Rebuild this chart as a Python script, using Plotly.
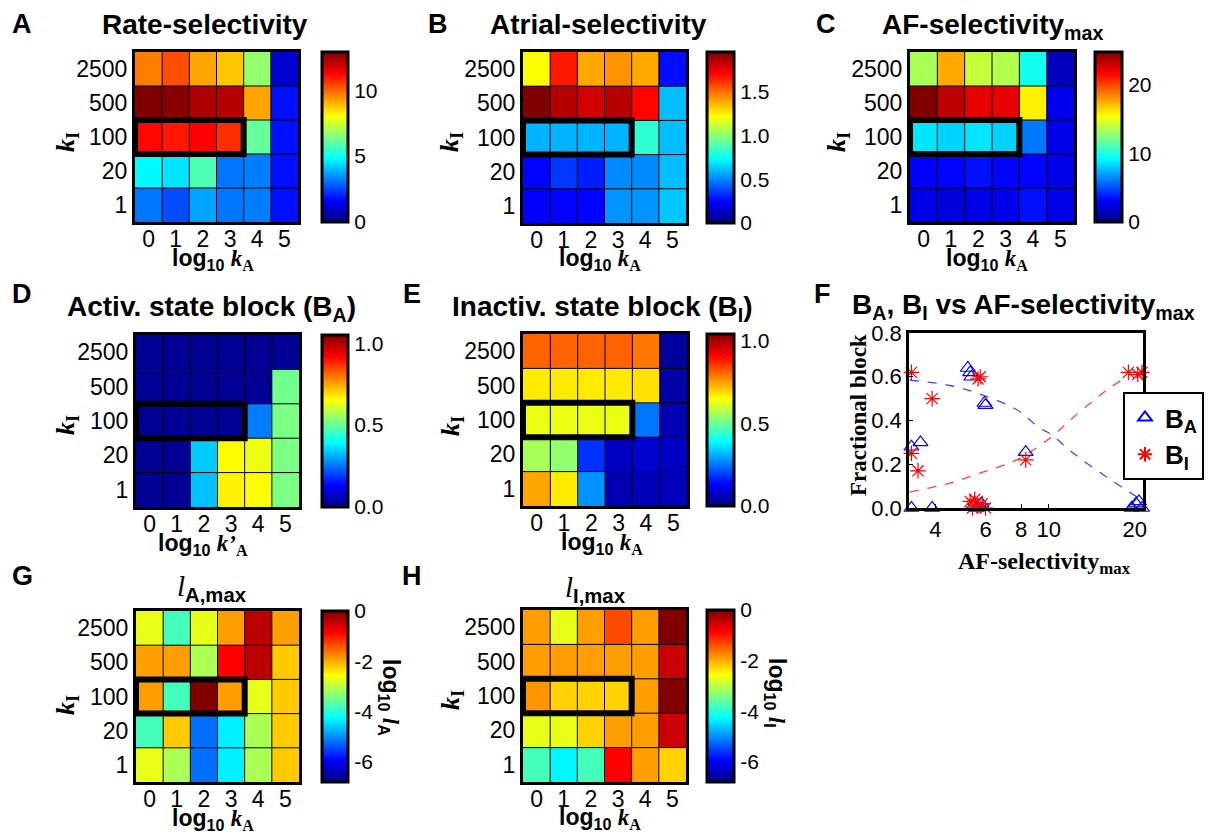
import plotly.graph_objects as go

W, H = 1217, 837
SANS = "Liberation Sans, Arial, sans-serif"
SERIF = "Liberation Serif, Times New Roman, serif"

# ---------------- parameter grid ----------------
kI_labels = ["2500", "500", "100", "20", "1"]      # heatmap rows, top to bottom
kI_order = kI_labels[::-1]                         # category order, bottom to top
log10_kA = [0, 1, 2, 3, 4, 5]                      # heatmap columns

rate_selectivity = [
    [9.7, 10.3, 9.2, 8.8, 6.7, 1.0],
    [12.9, 12.8, 12.3, 12.2, 9.2, 1.8],
    [11.2, 11.0, 11.3, 10.7, 6.1, 1.8],
    [4.8, 4.5, 5.8, 3.1, 3.2, 1.8],
    [3.1, 2.6, 3.7, 3.1, 3.2, 1.8],
]
atrial_selectivity = [
    [1.22, 1.67, 1.39, 1.43, 1.39, 0.27],
    [1.96, 1.86, 1.80, 1.85, 1.71, 0.61],
    [0.59, 0.59, 0.59, 0.59, 0.82, 0.61],
    [0.25, 0.35, 0.30, 0.51, 0.51, 0.61],
    [0.24, 0.25, 0.25, 0.53, 0.53, 0.63],
]
af_selectivity_max = [
    [13.4, 17.6, 14.1, 13.6, 9.7, 1.5],
    [24.8, 23.3, 22.3, 22.3, 15.9, 2.7],
    [8.7, 8.2, 8.7, 8.2, 6.0, 2.5],
    [3.0, 3.2, 3.5, 3.2, 3.2, 2.5],
    [2.5, 2.2, 2.5, 2.7, 3.5, 2.5],
]
activated_block = [
    [0.02, 0.02, 0.02, 0.02, 0.02, 0.02],
    [0.02, 0.02, 0.02, 0.02, 0.02, 0.51],
    [0.02, 0.02, 0.02, 0.02, 0.26, 0.52],
    [0.02, 0.02, 0.34, 0.66, 0.64, 0.52],
    [0.02, 0.02, 0.33, 0.67, 0.66, 0.52],
]
inactivated_block = [
    [0.81, 0.81, 0.81, 0.81, 0.79, 0.03],
    [0.67, 0.67, 0.67, 0.67, 0.68, 0.04],
    [0.63, 0.63, 0.63, 0.63, 0.25, 0.05],
    [0.56, 0.54, 0.18, 0.07, 0.08, 0.07],
    [0.74, 0.67, 0.28, 0.05, 0.06, 0.06],
]
log_lA_max = [
    [-2.7, -3.8, -2.7, -1.9, -0.4, -1.9],
    [-1.9, -1.9, -3.1, -0.85, -0.4, -2.2],
    [-1.9, -3.8, 0.0, -1.9, -2.7, -2.2],
    [-3.8, -2.2, -5.2, -4.35, -3.1, -2.2],
    [-2.7, -3.1, -5.2, -4.35, -3.1, -2.2],
]
log_lI_max = [
    [-1.9, -2.7, -1.9, -1.35, -1.9, 0.0],
    [-1.9, -1.9, -1.9, -1.9, -1.9, -0.5],
    [-1.85, -2.25, -2.25, -2.25, -1.9, -0.05],
    [-2.7, -2.7, -2.25, -1.9, -1.9, -0.5],
    [-3.8, -4.3, -3.8, -0.85, -1.9, -2.25],
]

# ---------------- fractional block vs AF-selectivity ----------------
ba_x = [3.3, 3.9, 3.3, 3.55, 5.2, 5.3, 5.35, 5.95, 6.0, 8.3, 5.45, 5.6, 5.8, 19.5, 20.2, 20.7, 21.2]
ba_y = [0.0, 0.0, 0.28, 0.30, 0.64, 0.62, 0.60, 0.48, 0.47, 0.255, 0.01, 0.0, 0.02, 0.0, 0.02, 0.03, 0.0]
bi_x = [3.3, 3.9, 3.3, 3.48, 5.65, 5.75, 8.3, 5.3, 5.4, 5.5, 5.65, 5.85, 6.0, 19.0, 20.5, 21.2]
bi_y = [0.62, 0.50, 0.25, 0.17, 0.59, 0.60, 0.22, 0.03, 0.0, 0.04, 0.01, 0.02, 0.0, 0.62, 0.61, 0.62]
fit_x_ba = [3.25, 4.5, 5.9, 7.7, 9.3, 10.1, 12.2, 16.0, 20.4]
fit_ba = [0.585, 0.56, 0.515, 0.45, 0.365, 0.34, 0.25, 0.14, 0.05]
fit_x_bi = [3.25, 4.5, 5.9, 7.7, 10.1, 12.2, 16.0, 19.3]
fit_bi = [0.073, 0.114, 0.165, 0.22, 0.32, 0.415, 0.54, 0.61]

JET = [[0.0, "rgb(0,0,128)"], [0.125, "rgb(0,0,255)"], [0.375, "rgb(0,255,255)"],
       [0.625, "rgb(255,255,0)"], [0.875, "rgb(255,0,0)"], [1.0, "rgb(128,0,0)"]]


def xd(x0, x1):
    return [x0 / W, x1 / W]


def yd(y0, y1):
    return [1 - y1 / H, 1 - y0 / H]


def ax_name(n, letter):
    return f"{letter}axis" if n == 1 else f"{letter}axis{n}"


def ax_ref(n, letter):
    return letter if n == 1 else f"{letter}{n}"


# panels: (axis number, data, zmin, zmax, colorbar ticks, tick text, heatmap box, colorbar box)
heat_panels = [
    (1, rate_selectivity, 0, 12.9, [0, 5, 10], ["0", "5", "10"], (135, 298, 52, 222), (322, 348, 52, 222)),
    (2, atrial_selectivity, 0, 1.96, [0, 0.5, 1.0, 1.5], ["0", "0.5", "1.0", "1.5"], (523, 686, 52, 223), (707, 734, 52, 223)),
    (3, af_selectivity_max, 0, 24.8, [0, 10, 20], ["0", "10", "20"], (910, 1074, 52, 222), (1095, 1122, 52, 222)),
    (4, activated_block, 0, 1.05, [0, 0.5, 1.0], ["0.0", "0.5", "1.0"], (136, 299, 335, 507), (322, 348, 335, 507)),
    (5, inactivated_block, 0, 1.04, [0, 0.5, 1.0], ["0.0", "0.5", "1.0"], (523, 687, 334, 506), (707, 734, 334, 506)),
    (7, log_lA_max, -6.8, 0, [-6, -4, -2, 0], ["-6", "-4", "-2", "0"], (136, 299, 611, 782), (322, 348, 611, 782)),
    (8, log_lI_max, -6.8, 0, [-6, -4, -2, 0], ["-6", "-4", "-2", "0"], (523, 686, 610, 782), (707, 734, 610, 782)),
]

fig = go.Figure()
layout = {}
shapes = []

for n, z, zmin, zmax, tv, tt, hb, cb in heat_panels:
    fig.add_trace(go.Heatmap(
        z=z, x=log10_kA, y=kI_labels, zmin=zmin, zmax=zmax, colorscale=JET,
        xaxis=ax_ref(n, "x"), yaxis=ax_ref(n, "y"), hoverinfo="skip",
        colorbar=dict(
            x=cb[0] / W, xanchor="left", xpad=0, y=1 - cb[2] / H, yanchor="top", ypad=0,
            len=cb[3] - cb[2], lenmode="pixels", thickness=cb[1] - cb[0], thicknessmode="pixels",
            outlinewidth=3, outlinecolor="black", tickvals=tv, ticktext=tt, ticks="",
            tickfont=dict(family=SANS, size=21, color="black"),
        ),
    ))
    layout[ax_name(n, "x")] = dict(
        domain=xd(hb[0], hb[1]), anchor=ax_ref(n, "y"), range=[-0.5, 5.5], automargin=False,
        tickvals=log10_kA, ticks="", ticklabelstandoff=-6, showgrid=False, zeroline=False,
        showline=True, mirror=True, linewidth=3, linecolor="black",
        tickfont=dict(family=SANS, size=23, color="black"),
    )
    layout[ax_name(n, "y")] = dict(
        domain=yd(hb[2], hb[3]), anchor=ax_ref(n, "x"), range=[-0.5, 4.5], automargin=False,
        type="category", categoryorder="array", categoryarray=kI_order,
        ticks="", showgrid=False, zeroline=False,
        showline=True, mirror=True, linewidth=3, linecolor="black",
        tickfont=dict(family=SANS, size=23, color="black"),
    )
    xr, yr = ax_ref(n, "x"), ax_ref(n, "y")
    # thin cell borders
    for i in range(1, len(log10_kA)):
        shapes.append(dict(type="line", xref=xr, yref=yr, x0=i - 0.5, x1=i - 0.5, y0=-0.5, y1=4.5,
                           line=dict(color="black", width=1), layer="above"))
    for j in range(1, len(kI_order)):
        shapes.append(dict(type="line", xref=xr, yref=yr, x0=-0.5, x1=5.5, y0=j - 0.5, y1=j - 0.5,
                           line=dict(color="black", width=1), layer="above"))
    # highlighted parameter set: k_I = 100, log10 k_A = 0..3
    r = kI_order.index("100")
    shapes.append(dict(type="rect", xref=xr, yref=yr, x0=-0.5, x1=3.5, y0=r - 0.5, y1=r + 0.5,
                       line=dict(color="black", width=6), fillcolor="rgba(0,0,0,0)", layer="above"))

# ---------------- panel F ----------------
fig.add_trace(go.Scatter(x=fit_x_ba, y=fit_ba, mode="lines", xaxis="x6", yaxis="y6", showlegend=False,
                         line=dict(color="rgb(70,70,255)", width=1.3, dash="dash", shape="spline"),
                         hoverinfo="skip"))
fig.add_trace(go.Scatter(x=fit_x_bi, y=fit_bi, mode="lines", xaxis="x6", yaxis="y6", showlegend=False,
                         line=dict(color="rgb(255,70,70)", width=1.3, dash="dash", shape="spline"),
                         hoverinfo="skip"))
fig.add_trace(go.Scatter(x=ba_x, y=ba_y, mode="markers", xaxis="x6", yaxis="y6", cliponaxis=False,
                         name="<b>B<sub>A</sub></b>",
                         marker=dict(symbol="triangle-up-open", size=13, color="rgb(0,0,255)",
                                     line=dict(width=1.2))))
fig.add_trace(go.Scatter(x=bi_x, y=bi_y, mode="markers", xaxis="x6", yaxis="y6", cliponaxis=False,
                         name="<b>B<sub>I</sub></b>",
                         marker=dict(symbol="asterisk-open", size=13, color="rgb(255,0,0)",
                                     line=dict(width=1.2, color="rgb(255,0,0)"))))

layout["xaxis6"] = dict(
    domain=xd(909, 1143), anchor="y6", type="log", range=[0.51, 1.33], automargin=False,
    tickvals=[4, 6, 8, 10, 20], ticktext=["4", "6", "8", "10", "20"],
    ticks="inside", ticklen=4, tickcolor="black", showgrid=False, zeroline=False,
    showline=True, mirror=True, linewidth=2.5, linecolor="black",
    tickfont=dict(family=SANS, size=22, color="black"),
)
layout["yaxis6"] = dict(
    domain=yd(333, 508), anchor="x6", range=[0, 0.8], automargin=False,
    tickvals=[0, 0.2, 0.4, 0.6, 0.8], ticktext=["0.0", "0.2", "0.4", "0.6", "0.8"],
    ticks="inside", ticklen=4, tickcolor="black", showgrid=False, zeroline=False,
    showline=True, mirror=True, linewidth=2.5, linecolor="black",
    tickfont=dict(family=SANS, size=22, color="black"),
)


def ann(text, x, y, size, family=SANS, angle=0):
    return dict(text=text, x=x / W, y=1 - y / H, xref="paper", yref="paper",
                xanchor="center", yanchor="middle", showarrow=False, textangle=angle,
                font=dict(family=family, size=size, color="black"))


SER = "<span style='font-family:Liberation Serif'>"
kA_title = "<b>log<sub>10</sub> " + SER + "<i>k</i><sub>A</sub></span></b>"
kA2_title = "<b>log<sub>10</sub> " + SER + "<i>k’</i><sub>A</sub></span></b>"
kI_title = "<b><i>k</i><sub>I</sub></b>"

annotations = [
    # panel letters
    ann("<b>A</b>", 22, 24, 27), ann("<b>B</b>", 438, 24, 27), ann("<b>C</b>", 826, 24, 27),
    ann("<b>D</b>", 22, 294, 27), ann("<b>E</b>", 412, 294, 27), ann("<b>F</b>", 822, 294, 27),
    ann("<b>G</b>", 22, 576, 27), ann("<b>H</b>", 412, 576, 27),
    # titles
    ann("<b>Rate-selectivity</b>", 205, 24, 28),
    ann("<b>Atrial-selectivity</b>", 598, 24, 28),
    ann("<b>AF-selectivity<sub>max</sub></b>", 992, 26, 28),
    ann("<b>Activ. state block (B<sub>A</sub>)</b>", 211, 308, 28),
    ann("<b>Inactiv. state block (B<sub>I</sub>)</b>", 602, 308, 28),
    ann("<b>B<sub>A</sub>, B<sub>I</sub> vs AF-selectivity<sub>max</sub></b>", 1023, 307, 28),
    ann(SER + "<i>l</i></span><b><sub>A,max</sub></b>", 212, 588, 29),
    ann(SER + "<i>l</i></span><b><sub>I,max</sub></b>", 595, 589, 29),
    # x titles
    ann(kA_title, 213, 259, 23), ann(kA_title, 600, 259, 23), ann(kA_title, 987, 259, 23),
    ann(kA2_title, 203, 544, 23), ann(kA_title, 602, 543, 23),
    ann(kA_title, 213, 819, 23), ann(kA_title, 600, 818, 23),
    # y titles
    ann(kI_title, 67, 142, 26, SERIF, -90), ann(kI_title, 451, 142, 26, SERIF, -90),
    ann(kI_title, 838, 142, 26, SERIF, -90), ann(kI_title, 67, 425, 26, SERIF, -90),
    ann(kI_title, 452, 426, 26, SERIF, -90), ann(kI_title, 67, 705, 26, SERIF, -90),
    ann(kI_title, 452, 700, 26, SERIF, -90),
    # colorbar titles
    ann("<b>log<sub>10</sub> " + SER + "<i>l</i></span><sub>A</sub></b>", 390, 697, 23, SANS, 90),
    ann("<b>log<sub>10</sub> " + SER + "<i>l</i></span><sub>I</sub></b>", 776, 693, 23, SANS, 90),
    # panel F axis titles
    ann("<b>Fractional block</b>", 858, 415, 23, SERIF, -90),
    ann("<b>AF-selectivity<sub>max</sub></b>", 1044, 563, 24, SERIF),
]

fig.update_layout(
    width=W, height=H, margin=dict(l=0, r=0, t=0, b=0, pad=0, autoexpand=False),
    paper_bgcolor="white", plot_bgcolor="white",
    shapes=shapes, annotations=annotations,
    showlegend=True,
    legend=dict(x=1123 / W, y=1 - 392 / H, xanchor="left", yanchor="top",
                bgcolor="white", bordercolor="black", borderwidth=2,
                font=dict(family=SANS, size=26, color="black"),
                itemsizing="constant", tracegroupgap=0),
    **layout,
)

fig.write_html("out.html")
